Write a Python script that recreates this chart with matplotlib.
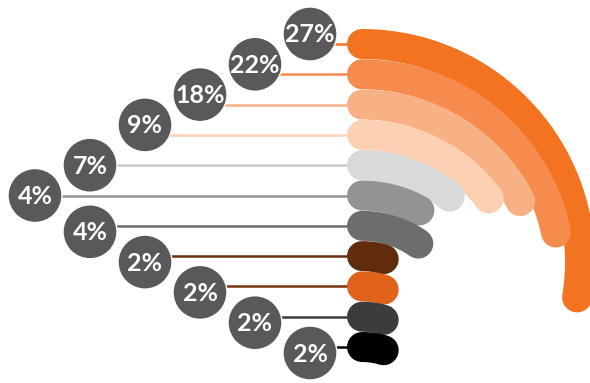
import numpy as np
import matplotlib
matplotlib.use("Agg")
from matplotlib import pyplot as plt
from matplotlib.patches import Circle

# share of each group, top bar first
values = [27, 22, 18, 9, 7, 4, 4, 2, 2, 2, 2]
labels = [f"{v}%" for v in values]

bar_colors = ["#f37321", "#f58b4c", "#f8b185", "#fbd0b3", "#d9d9d9", "#939393",
              "#6d6d6d", "#602c0d", "#e0621b", "#3c3c3c", "#000000"]
line_colors = ["#f37321", "#f58b4c", "#f8b185", "#fbd0b3", "#cccccc", "#939393",
               "#6d6d6d", "#6b2f10", "#7a3512", "#3c3c3c", "#000000"]

# visual scale: percent -> arc length (px), radius shrinks row by row
scale_pct = [0, 2, 4, 7, 9, 18, 22, 27]
scale_len = [0, 22, 60, 95, 147, 195, 271, 378]

W, H = 590, 383
fig = plt.figure(figsize=(W / 100, H / 100), dpi=100)
ax = fig.add_axes([0, 0, 1, 1])
ax.set_xlim(0, W)
ax.set_ylim(H, 0)
ax.axis("off")

n = len(values)
idx = np.arange(n)
rows = np.linspace(44, 347, n)
x0 = 362
radius = np.maximum(218 - 20 * idx, 75)
lengths = np.interp(values, scale_pct, scale_len)
bar_w = 30 * 72 / 100  # 30 px thick

for i in range(n):
    # the arc
    theta = lengths[i] / radius[i]
    t = np.linspace(0, theta, 200)
    xs = x0 + radius[i] * np.sin(t)
    ys = rows[i] + radius[i] * (1 - np.cos(t))
    ax.plot(xs, ys, color=bar_colors[i], lw=bar_w, solid_capstyle="round",
            zorder=10 + i)

    # label bubble + connector
    cx = 35 + 55 * abs(i - 5)
    cy = rows[i] + (-10 if i < 4 else 6 if i > 5 else 0)
    ax.plot([cx, x0], [rows[i], rows[i]], color=line_colors[i], lw=1.8, zorder=2)
    ax.add_patch(Circle((cx, cy), 27, facecolor="#595959", edgecolor="white",
                        lw=1, zorder=5))
    ax.text(cx, cy + 1, labels[i], color="white", fontsize=18, fontweight="bold",
            family="Lato", ha="center", va="center", zorder=6)

fig.savefig("out.png", dpi=100)
